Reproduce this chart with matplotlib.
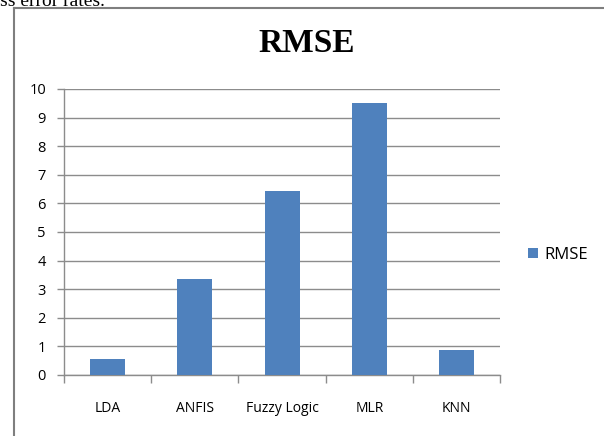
import numpy as np
import matplotlib.pyplot as plt
from matplotlib.lines import Line2D

# Data
methods = ["LDA", "ANFIS", "Fuzzy Logic", "MLR", "KNN"]
rmse = [0.55, 3.37, 6.43, 9.52, 0.88]
y_ticks = list(range(0, 11))

bar_color = "#4F81BD"
grid_color = "#8C8C8C"
label_font = "Open Sans"

fig = plt.figure(figsize=(6.04, 4.36), dpi=100)
ax = fig.add_axes([0.106, 0.140, 0.722, 0.656])

x = np.arange(len(methods))
ax.bar(x, rmse, width=0.4, color=bar_color, zorder=3, label="RMSE")

# Axis limits and ticks
ax.set_xlim(-0.5, len(methods) - 0.5)
ax.set_ylim(0, 10)
ax.set_yticks(y_ticks)
ax.set_yticklabels([str(t) for t in y_ticks], fontname=label_font, fontsize=10.5)
ax.set_xticks(x)
ax.set_xticklabels(methods, fontname=label_font, fontsize=10)
ax.set_xticks(np.arange(len(methods) + 1) - 0.5, minor=True)
ax.tick_params(axis="x", which="major", length=0, pad=19)
ax.tick_params(axis="x", which="minor", length=6, color=grid_color, width=1)
ax.tick_params(axis="y", length=5, color=grid_color, width=1, pad=8)

# Gridlines and spines
ax.yaxis.grid(True, color=grid_color, lw=1, zorder=0)
ax.set_axisbelow(True)
for side in ["top", "right"]:
    ax.spines[side].set_visible(False)
for side in ["left", "bottom"]:
    ax.spines[side].set_color(grid_color)
    ax.spines[side].set_linewidth(1)

# Title
fig.text(0.507, 0.900, "RMSE", ha="center", va="center",
         fontname="Liberation Serif", fontweight="bold", fontsize=24)

# Legend
ax.legend(loc="center left", bbox_to_anchor=(1.03, 0.42), frameon=False,
          handlelength=0.6, handleheight=0.6, handletextpad=0.4,
          prop={"family": label_font, "size": 12})

# Outer frame of the embedded chart
fig.add_artist(Line2D([14 / 604, 14 / 604], [0, 1 - 8 / 436], color="#7F7F7F", lw=1.5))
fig.add_artist(Line2D([14 / 604, 1], [1 - 8 / 436, 1 - 8 / 436], color="#7F7F7F", lw=1.5))

# Cropped text from the surrounding page
fig.text(0.0, 1.0 + 7 / 436, "ss error rates.", ha="left", va="top",
         fontname="Liberation Serif", fontsize=14)

fig.savefig("out.png", dpi=100)
